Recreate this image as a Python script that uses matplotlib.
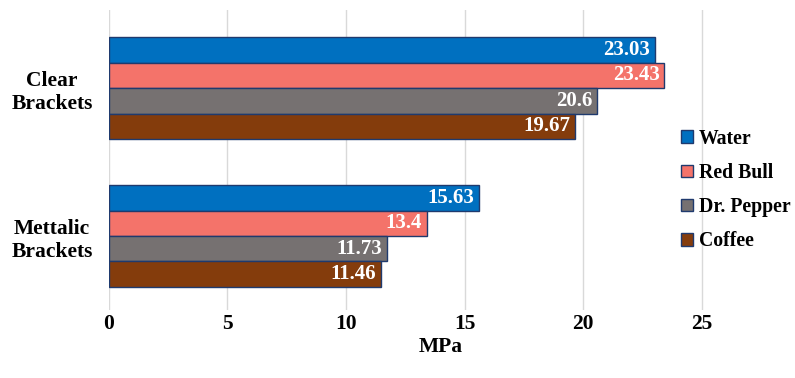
import matplotlib.pyplot as plt
import numpy as np

# data
groups = ["Clear\nBrackets", "Mettalic\nBrackets"]
series = ["Water", "Red Bull", "Dr. Pepper", "Coffee"]
water = [23.03, 15.63]
red_bull = [23.43, 13.4]
dr_pepper = [20.6, 11.73]
coffee = [19.67, 11.46]
value_labels = {
    "Water": ["23.03", "15.63"],
    "Red Bull": ["23.43", "13.4"],
    "Dr. Pepper": ["20.6", "11.73"],
    "Coffee": ["19.67", "11.46"],
}
x_ticks = [0, 5, 10, 15, 20, 25]

colors = ["#0070C0", "#F4736A", "#767171", "#843C0C"]
EDGE = "#1F3A6E"
FONT = "Liberation Serif"

plt.rcParams["font.family"] = FONT
plt.rcParams["font.weight"] = "bold"

fig = plt.figure(figsize=(7.95, 3.78), dpi=100)
ax = fig.add_axes([0.137, 0.18, 0.835, 0.794])

values = [water, red_bull, dr_pepper, coffee]
bar_h = 0.172
y = np.arange(len(groups))
offsets = (np.arange(len(series)) - 1.5) * bar_h

for i, (name, vals) in enumerate(zip(series, values)):
    ys = y + offsets[i]
    ax.barh(ys, vals, height=bar_h, color=colors[i], edgecolor=EDGE,
            linewidth=1.0, label=name, zorder=3)
    for yy, v, lab in zip(ys, vals, value_labels[name]):
        ax.text(v - 0.2, yy, lab, ha="right", va="center", color="white",
                fontsize=15, fontweight="bold", zorder=4)

ax.set_ylim(1.5, -0.53)
ax.set_xlim(0, 28)
ax.set_yticks(y)
ax.set_yticklabels(groups, fontsize=15.5, fontweight="bold", ha="center",
                   multialignment="center")
ax.tick_params(axis="y", length=0, pad=41)
ax.set_xticks(x_ticks)
ax.set_xticklabels([str(t) for t in x_ticks], fontsize=15.5, fontweight="bold")
ax.tick_params(axis="x", length=0, pad=3)
ax.set_xlabel("MPa", fontsize=15.5, fontweight="bold", labelpad=2)

ax.grid(axis="x", color="#D9D9D9", linewidth=1, zorder=0)
for s in ax.spines.values():
    s.set_visible(False)

leg = ax.legend(loc="center left", bbox_to_anchor=(0.835, 0.40), frameon=False,
                handlelength=0.6, handleheight=0.6,
                handletextpad=0.3, labelspacing=0.72,
                prop={"family": FONT, "weight": "bold", "size": 14.2})

fig.savefig("out.png", dpi=100)
